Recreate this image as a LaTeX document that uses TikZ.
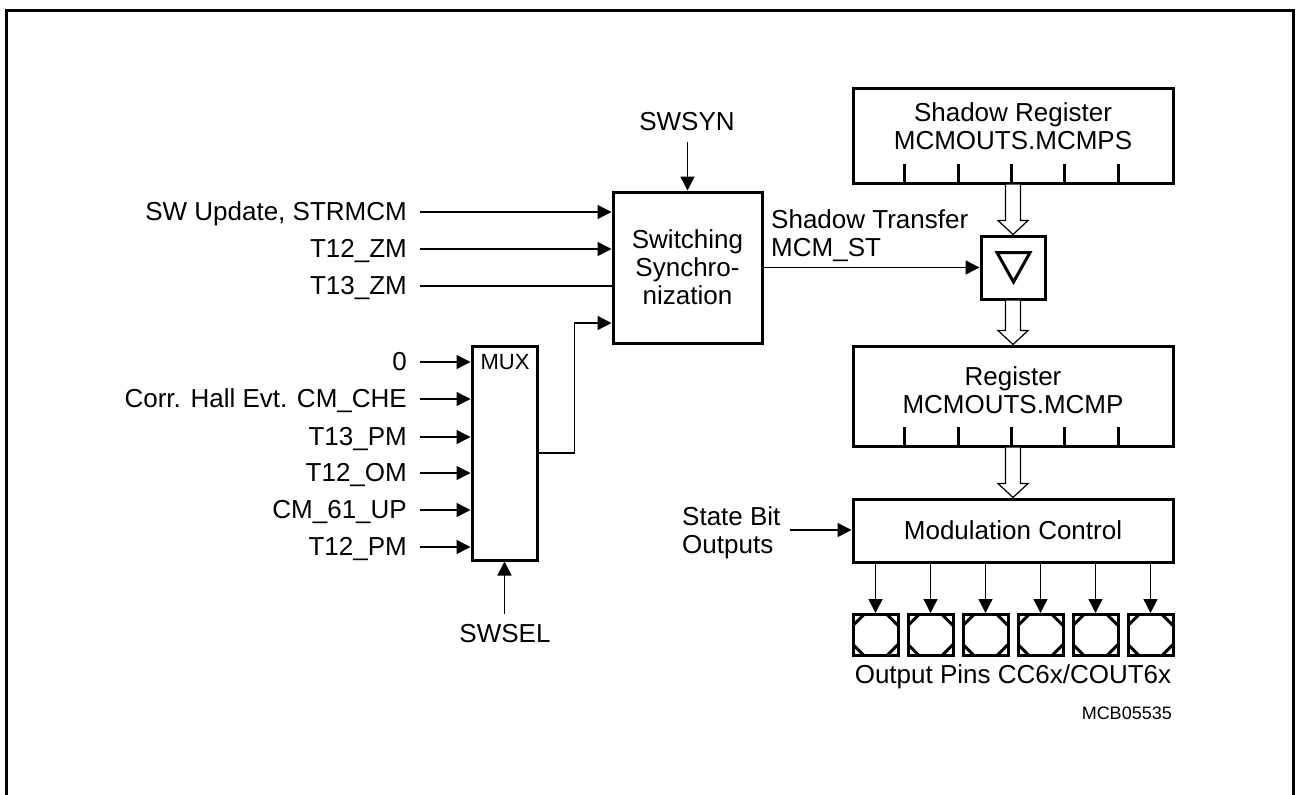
\documentclass[tikz,border=0pt]{standalone}
\usepackage{fontspec}
\setmainfont{Liberation Sans}
\usetikzlibrary{arrows.meta,calc}
\newcommand\fs{\fontsize{26}{28}\selectfont}
\newcommand\hollowarrow[2]{%
  \draw[line width=1.2pt,fill=white] ($(#1)+(-7.5,0)$) -- ($(#2)+(-7.5,-14)$) -- ($(#2)+(-15,-14)$) -- (#2) -- ($(#2)+(15,-14)$) -- ($(#2)+(7.5,-14)$) -- ($(#1)+(7.5,0)$);}
\begin{document}
\begin{tikzpicture}[x=1pt,y=-1pt,
  every node/.style={font=\fs, inner sep=0pt},
  box/.style={draw, line width=3pt, rectangle},
  arr/.style={line width=1.5pt, -{Triangle[length=14pt,width=14pt]}},
  ln/.style={line width=1.5pt},
  lab/.style={anchor=east, text height=17pt, text depth=0pt},
  pin/.style={box, minimum width=45pt, minimum height=41pt,
    path picture={\draw[line width=3pt]
      ([xshift=11pt]path picture bounding box.north west) -- ([yshift=-11pt]path picture bounding box.north west)
      ([xshift=-11pt]path picture bounding box.north east) -- ([yshift=-11pt]path picture bounding box.north east)
      ([xshift=11pt]path picture bounding box.south west) -- ([yshift=11pt]path picture bounding box.south west)
      ([xshift=-11pt]path picture bounding box.south east) -- ([yshift=11pt]path picture bounding box.south east);}}
]
\useasboundingbox (0,0) rectangle (1296,795);
% frame
\draw[line width=3pt] (6,795) -- (6,10) -- (1293,10) -- (1293,795);

% main boxes
\node[box, minimum width=149pt, minimum height=151pt, align=center] (sw) at (687.5,267.5) {Switching\\Synchro-\\nization};
\node[box, minimum width=65pt, minimum height=214pt] (mux) at (504.5,453) {};
\node[font=\fontsize{22}{24}\selectfont] (muxl) at (505,362) {MUX};
\node[box, minimum width=64pt, minimum height=63pt] (trig) at (1013,267.5) {};
\draw[line width=3pt, line join=miter] ($(trig.center)+(-16,-15)$) -- ($(trig.center)+(17,-15)$) -- ($(trig.center)+(0.5,14.5)$) -- cycle;
\node[box, minimum width=320pt, minimum height=95pt] (shreg) at (1013,135.5) {};
\node[align=center] (shregl) at ($(shreg.center)+(0,-9.5)$) {Shadow Register\\MCMOUTS.MCMPS};
\node[box, minimum width=320pt, minimum height=100pt] (reg) at (1013,396) {};
\node[align=center] (regl) at ($(reg.center)+(0,-6)$) {Register\\MCMOUTS.MCMP};
\node[box, minimum width=320pt, minimum height=63pt] (mod) at (1013,530.5) {Modulation Control};

% register ticks
\foreach \k in {1,...,5} {
  \draw[line width=3pt] ($(shreg.south west)+(\k*320/6,0)$) -- ++(0,-21);
  \draw[line width=3pt] ($(reg.south west)+(\k*320/6,0)$) -- ++(0,-21);
}

% hollow arrows
\coordinate (h1a) at (shreg.south); \coordinate (h1b) at (trig.north);
\coordinate (h2a) at (trig.south); \coordinate (h2b) at (reg.north);
\coordinate (h3a) at (reg.south); \coordinate (h3b) at (mod.north);
\hollowarrow{h1a}{h1b}
\hollowarrow{h2a}{h2b}
\hollowarrow{h3a}{h3b}

% left inputs to switching
\node[lab] (i1) at (407,212) {SW Update, STRMCM};
\node[lab] (i2) at (407,249) {T12\_ZM};
\node[lab] (i3) at (407,286) {T13\_ZM};
\draw[arr] ([xshift=13pt]i1.east) -- (i1.east -| sw.west);
\draw[arr] ([xshift=13pt]i2.east) -- (i2.east -| sw.west);
\draw[ln] ([xshift=13pt]i3.east) -- (i3.east -| sw.west);

% mux inputs
\node[lab] (m1) at (407,362) {0};
\node[lab] (m2) at (407,399) {Corr. Hall Evt. CM\_CHE};
\node[lab] (m3) at (407,437) {T13\_PM};
\node[lab] (m4) at (407,473) {T12\_OM};
\node[lab] (m5) at (407,510) {CM\_61\_UP};
\node[lab] (m6) at (407,547) {T12\_PM};
\foreach \m in {m1,m2,m3,m4,m5,m6}
  \draw[arr] ([xshift=13pt]\m.east) -- (\m.east -| mux.west);

% mux output to switching
\coordinate (swin4) at ($(sw.west)+(0,55.5)$);
\draw[arr] (mux.east) -- ++(36,0) |- (swin4);

% SWSYN / SWSEL
\node (swsyn) at (687,122) {SWSYN};
\coordinate (swsynA) at (687.5,142);
\draw[arr] (swsynA) -- (sw.north);
\node (swsel) at (505,634) {SWSEL};
\coordinate (swselA) at (504.5,614);
\draw[arr] (swselA) -- (mux.south);

% shadow transfer
\node[align=left, anchor=west] (stl) at (771,236) {Shadow Transfer\\MCM\_ST};
\draw[arr] (sw.east |- trig.west) -- (trig.west);

% state bit
\node[align=left, anchor=west] (sbl) at (682,533) {State Bit\\Outputs};
\coordinate (sbA) at (790,530);
\draw[arr] (sbA) -- (sbA -| mod.west);

% pins
\foreach \i in {0,...,5} {
  \node[pin] (p\i) at (875.5+\i*55,635) {};
  \draw[arr] (p\i.north |- mod.south) -- (p\i.north);
}
\node (pinl) at (1013,677) {Output Pins CC6x/COUT6x};
\node[anchor=east, font=\fontsize{18}{20}\selectfont] (mcb) at (1172,713) {MCB05535};
\end{tikzpicture}
\end{document}
